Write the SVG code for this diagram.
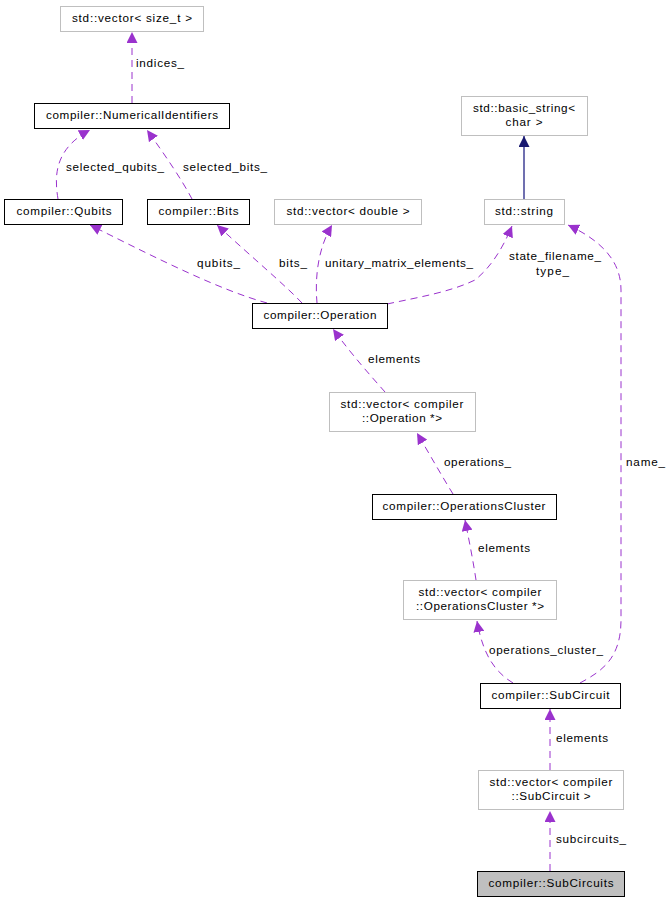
<svg xmlns="http://www.w3.org/2000/svg" width="671" height="915" viewBox="0 0 671 915">
<style>
text{font-family:"Liberation Sans",Arial,sans-serif;font-size:11.7px;fill:#000}
.n text{text-anchor:middle}
.b{fill:#fff;stroke:#000;stroke-width:1}
.g{fill:#fff;stroke:#bfbfbf;stroke-width:1}
.e{fill:none;stroke:#9a32cd;stroke-dasharray:7,5;stroke-width:1}
.i{fill:none;stroke:#404096;stroke-width:1.5}
</style>
<defs>
<marker id="ap" viewBox="0 0 10 10" refX="10" refY="5" markerWidth="11" markerHeight="11" markerUnits="userSpaceOnUse" orient="auto"><path d="M0,0L10,5L0,10z" fill="#9a32cd"/></marker>
<marker id="ab" viewBox="0 0 10 10" refX="10" refY="5" markerWidth="11" markerHeight="11" markerUnits="userSpaceOnUse" orient="auto"><path d="M0,0L10,5L0,10z" fill="#191970"/></marker>
</defs>
<rect width="671" height="915" fill="#fff"/>
<g id="connectors">
<path class="e" marker-end="url(#ap)" d="M132,103L132,32"/>
<text x="136" y="67" textLength="48">indices_</text>
<path class="e" marker-end="url(#ap)" d="M58,199C55,180 52,150 90,130"/>
<text x="66" y="171" textLength="98">selected_qubits_</text>
<path class="e" marker-end="url(#ap)" d="M192,199C182,180 165,155 147,130"/>
<text x="183" y="171" textLength="84">selected_bits_</text>
<path class="e" marker-end="url(#ap)" d="M267,303C220,290 160,260 90,225"/>
<text x="197" y="267" textLength="43">qubits_</text>
<path class="e" marker-end="url(#ap)" d="M302,303C285,285 255,260 217,225"/>
<text x="279" y="267" textLength="28">bits_</text>
<path class="e" marker-end="url(#ap)" d="M317,303C315,280 317,250 332,225"/>
<text x="325" y="267" textLength="148">unitary_matrix_elements_</text>
<path class="e" marker-end="url(#ap)" d="M387,304C420,297 450,292 475,280C490,268 502,250 512,226"/>
<text x="509" y="260" textLength="92">state_filename_</text>
<text x="536" y="275" textLength="33">type_</text>
<path class="e" marker-end="url(#ap)" d="M580,683C600,672 621,660 621,620L621,290C621,260 600,240 568,225"/>
<text x="626" y="466" textLength="39">name_</text>
<path class="e" marker-end="url(#ap)" d="M385,392C370,375 352,355 333,329"/>
<text x="368" y="363" textLength="52">elements</text>
<path class="e" marker-end="url(#ap)" d="M453,494C443,478 430,455 417,433"/>
<text x="444" y="466" textLength="67">operations_</text>
<path class="e" marker-end="url(#ap)" d="M476,580C473,560 469,540 465,520"/>
<text x="478" y="552" textLength="52">elements</text>
<path class="e" marker-end="url(#ap)" d="M513,683C495,672 483,655 477,621"/>
<text x="489" y="654" textLength="114">operations_cluster_</text>
<path class="e" marker-end="url(#ap)" d="M550,770L550,709"/>
<text x="556" y="742" textLength="52">elements</text>
<path class="e" marker-end="url(#ap)" d="M550,871L550,811"/>
<text x="556" y="843" textLength="70">subcircuits_</text>
<path class="i" marker-end="url(#ab)" d="M524,199L524,136"/>
</g>
<g class="n">
<g id="n_vsize"><rect class="g" x="60.5" y="6.5" width="143" height="25"/><text x="132" y="22" textLength="120">std::vector&lt; size_t &gt;</text></g>
<g id="n_ni"><rect class="b" x="34.5" y="103.5" width="195" height="25"/><text x="132" y="119" textLength="172">compiler::NumericalIdentifiers</text></g>
<g id="n_bs"><rect class="g" x="461.5" y="96.5" width="126" height="39"/><text x="524" y="112" textLength="102">std::basic_string&lt;</text><text x="524" y="126" textLength="37">char &gt;</text></g>
<g id="n_qubits"><rect class="b" x="4.5" y="199.5" width="118" height="25"/><text x="64" y="215" textLength="95">compiler::Qubits</text></g>
<g id="n_bits"><rect class="b" x="147.5" y="199.5" width="102" height="25"/><text x="198.5" y="215" textLength="80">compiler::Bits</text></g>
<g id="n_vdouble"><rect class="g" x="274.5" y="199.5" width="147" height="25"/><text x="348" y="215" textLength="123">std::vector&lt; double &gt;</text></g>
<g id="n_string"><rect class="g" x="484.5" y="199.5" width="80" height="25"/><text x="524" y="215" textLength="58">std::string</text></g>
<g id="n_op"><rect class="b" x="252.5" y="303.5" width="135" height="25"/><text x="320" y="319" textLength="113">compiler::Operation</text></g>
<g id="n_vop"><rect class="g" x="329.5" y="392.5" width="146" height="39"/><text x="402" y="408" textLength="123">std::vector&lt; compiler</text><text x="402" y="422" textLength="80">::Operation *&gt;</text></g>
<g id="n_oc"><rect class="b" x="372.5" y="494.5" width="184" height="25"/><text x="464" y="510" textLength="163">compiler::OperationsCluster</text></g>
<g id="n_voc"><rect class="g" x="403.5" y="580.5" width="153" height="39"/><text x="480" y="596" textLength="123">std::vector&lt; compiler</text><text x="480" y="610" textLength="128">::OperationsCluster *&gt;</text></g>
<g id="n_sc"><rect class="b" x="480.5" y="683.5" width="140" height="25"/><text x="550.5" y="699" textLength="118">compiler::SubCircuit</text></g>
<g id="n_vsc"><rect class="g" x="478.5" y="770.5" width="145" height="39"/><text x="551" y="786" textLength="123">std::vector&lt; compiler</text><text x="551" y="800" textLength="79">::SubCircuit &gt;</text></g>
<g id="n_scs"><rect x="477.5" y="871.5" width="147" height="25" fill="#bfbfbf" stroke="#000"/><text x="551" y="887" textLength="125">compiler::SubCircuits</text></g>
</g>
</svg>
